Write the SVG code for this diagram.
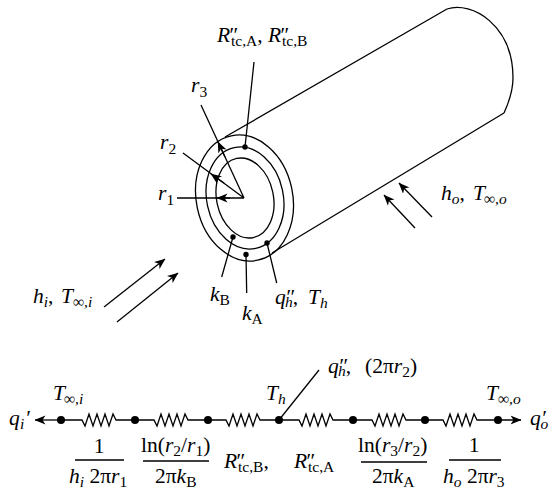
<svg xmlns="http://www.w3.org/2000/svg" width="549" height="489" viewBox="0 0 549 489">
<style>
text{font-family:"Liberation Serif","DejaVu Serif",serif;font-size:21.5px;fill:#000}
.i{font-style:italic}
.s{font-size:15.5px}
.l{fill:none;stroke:#000;stroke-width:1.3}
.d{fill:#000}
.m{text-anchor:middle}
</style>
<defs>
<marker id="a" viewBox="0 0 11 10" refX="10.5" refY="5" markerWidth="11" markerHeight="10" markerUnits="userSpaceOnUse" orient="auto"><path d="M0 0.5L11 5L0 9.5L3 5Z" fill="#000"/></marker>
</defs>
<g id="cylinder" class="l">
<path d="M225 137L447 9M272 253L504 113"/>
<path d="M447 9C472 1 513 25 513 78C513 90 509 102 504 113"/>
<ellipse cx="244.5" cy="198" rx="48.2" ry="63.6" transform="rotate(-12 244.5 198)"/>
<ellipse cx="245" cy="198" rx="38.3" ry="51.5" transform="rotate(-12 245 198)"/>
<ellipse cx="245" cy="198" rx="28.4" ry="40.4" transform="rotate(-12 245 198)"/>
</g>
<g id="connectors" class="l">
<path d="M244 198H177M244 198L183 153M244 198L201 105"/>
<path d="M230 198H217" marker-end="url(#a)"/>
<path d="M224 183L211 174" marker-end="url(#a)"/>
<path d="M225 157L218 142" marker-end="url(#a)"/>
<path d="M254 62L245 147M233 237L221.7 277M246 254L246.7 293M267 243L276.7 283"/>
<path d="M104 307L165 259" marker-end="url(#a)"/>
<path d="M117 322L178 273" marker-end="url(#a)"/>
<path d="M415 228L384 195" marker-end="url(#a)"/>
<path d="M432 217L399 183" marker-end="url(#a)"/>
<path d="M61 420H35" marker-end="url(#a)"/>
<path d="M61 420H82L85 426L89 414L93 426L97 414L101 426L105 414L109 426L113 414L116 420H135"/>
<path d="M135 420H154L157 426L161 414L165 426L169 414L173 426L177 414L181 426L185 414L188 420H208"/>
<path d="M208 420H226L229 426L233 414L237 426L241 414L245 426L249 414L253 426L257 414L260 420H279"/>
<path d="M279 420H299L302 426L306 414L310 426L314 414L318 426L322 414L326 426L330 414L333 420H353"/>
<path d="M353 420H372L375 426L379 414L383 426L387 414L391 426L395 414L399 426L403 414L406 420H425"/>
<path d="M425 420H443L446 426L450 414L454 426L458 414L462 426L466 414L470 426L474 414L477 420H521" marker-end="url(#a)"/>
<path d="M279 420L319 370"/>
<path d="M75 460H124M143 461H209M361 462H427M449 460H501"/>
</g>
<g id="junctions" class="d">
<circle cx="245" cy="147" r="2.7"/><circle cx="233" cy="237" r="2.7"/><circle cx="246" cy="254.5" r="2.7"/><circle cx="267" cy="243" r="2.7"/>
<circle cx="61" cy="420" r="4"/><circle cx="135" cy="420" r="4"/><circle cx="208" cy="420" r="4"/><circle cx="279" cy="420" r="4"/><circle cx="353" cy="420" r="4"/><circle cx="425" cy="420" r="4"/><circle cx="498" cy="420" r="4"/>
</g>
<g id="labels">
<text y="42"><tspan class="i" x="217">R</tspan><tspan class="i" x="228">″</tspan><tspan class="s" x="231" dy="4">tc,A</tspan><tspan dy="-4">,</tspan><tspan class="i" x="268">R</tspan><tspan class="i" x="279">″</tspan><tspan class="s" x="282" dy="4">tc,B</tspan></text>
<text x="191" y="92"><tspan class="i">r</tspan><tspan class="s" dy="5">3</tspan></text>
<text x="160" y="149"><tspan class="i">r</tspan><tspan class="s" dy="5">2</tspan></text>
<text x="158" y="200"><tspan class="i">r</tspan><tspan class="s" dy="5">1</tspan></text>
<text x="210" y="301"><tspan class="i">k</tspan><tspan class="s" dy="4">B</tspan></text>
<text x="242" y="320"><tspan class="i">k</tspan><tspan class="s" dy="4">A</tspan></text>
<text y="304"><tspan class="i" x="275">q</tspan><tspan class="i" x="285">″</tspan><tspan class="i s" x="285" dy="3">h</tspan><tspan dy="-3">,</tspan><tspan class="i" x="308">T</tspan><tspan class="i s" dy="4">h</tspan></text>
<text y="200"><tspan class="i" x="441">h</tspan><tspan class="i s" dy="4">o</tspan><tspan dy="-4">,</tspan><tspan class="i" x="473">T</tspan><tspan class="i s" dy="4" x="484">∞,o</tspan></text>
<text y="303"><tspan class="i" x="33">h</tspan><tspan class="i s" dy="4">i</tspan><tspan dy="-4">,</tspan><tspan class="i" x="61">T</tspan><tspan class="i s" dy="4" x="73">∞,i</tspan></text>
<text y="400"><tspan class="i" x="53">T</tspan><tspan class="i s" dy="4" x="64">∞,i</tspan></text>
<text y="400"><tspan class="i" x="266">T</tspan><tspan class="i s" dy="4">h</tspan></text>
<text y="400"><tspan class="i" x="486">T</tspan><tspan class="i s" dy="4" x="498">∞,o</tspan></text>
<text y="425"><tspan class="i" x="9">q</tspan><tspan class="i" x="25">′</tspan><tspan class="i s" x="20" dy="4">i</tspan></text>
<text y="425"><tspan class="i" x="530">q</tspan><tspan class="i" x="541">′</tspan><tspan class="i s" x="540.5" dy="4">o</tspan></text>
<text y="373"><tspan class="i" x="328">q</tspan><tspan class="i" x="338">″</tspan><tspan class="i s" x="338" dy="3">h</tspan><tspan dy="-3">,</tspan><tspan x="365">(2π</tspan><tspan class="i">r</tspan><tspan class="s" dy="4">2</tspan><tspan dy="-4">)</tspan></text>
<text x="99" y="453" class="m">1</text>
<text x="69" y="483"><tspan class="i">h</tspan><tspan class="i s" dy="4">i</tspan><tspan dy="-4"> 2π</tspan><tspan class="i">r</tspan><tspan class="s" dy="4">1</tspan></text>
<text x="141" y="452">ln(<tspan class="i">r</tspan><tspan class="s" dy="4">2</tspan><tspan dy="-4">/</tspan><tspan class="i">r</tspan><tspan class="s" dy="4">1</tspan><tspan dy="-4">)</tspan></text>
<text x="155" y="483">2π<tspan class="i">k</tspan><tspan class="s" dy="4">B</tspan></text>
<text y="468"><tspan class="i" x="224">R</tspan><tspan class="i" x="235">″</tspan><tspan class="s" x="238" dy="4">tc,B</tspan><tspan dy="-4">,</tspan></text>
<text y="468"><tspan class="i" x="294">R</tspan><tspan class="i" x="305">″</tspan><tspan class="s" x="308" dy="4">tc,A</tspan></text>
<text x="358" y="452">ln(<tspan class="i">r</tspan><tspan class="s" dy="4">3</tspan><tspan dy="-4">/</tspan><tspan class="i">r</tspan><tspan class="s" dy="4">2</tspan><tspan dy="-4">)</tspan></text>
<text x="372" y="483">2π<tspan class="i">k</tspan><tspan class="s" dy="4">A</tspan></text>
<text x="474" y="452" class="m">1</text>
<text x="443" y="483"><tspan class="i">h</tspan><tspan class="i s" dy="4">o</tspan><tspan dy="-4"> 2π</tspan><tspan class="i">r</tspan><tspan class="s" dy="4">3</tspan></text>
</g>
</svg>
